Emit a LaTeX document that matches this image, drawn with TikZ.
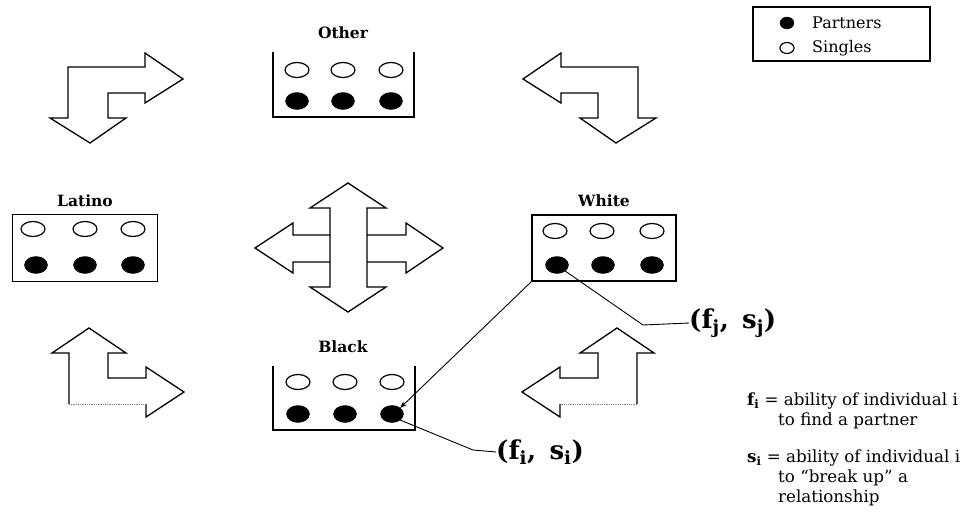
\documentclass[tikz,border=0pt]{standalone}
\usepackage{fontspec}
\setmainfont{DejaVu Serif}
\usetikzlibrary{shapes.geometric,arrows.meta}
\tikzset{
  partner/.style={draw,fill,ellipse,inner sep=0pt,outer sep=0pt,minimum width=23pt,minimum height=17pt},
  single/.style={draw,line width=1.2pt,ellipse,inner sep=0pt,outer sep=0pt,minimum width=24pt,minimum height=15pt},
  grouplabel/.style={font=\bfseries\fontsize{15.5}{18}\selectfont,inner sep=1pt},
  groupbox/.style={line width=1.5pt},
  bigarrow/.style={line width=1.3pt,line join=miter},
  faintedge/.style={line width=0.8pt,gray,densely dotted},
  legendtext/.style={font=\fontsize{16}{18}\selectfont,inner sep=0pt,anchor=west},
  pairlabel/.style={font=\bfseries\fontsize{26}{30}\selectfont,inner sep=0pt,anchor=west},
  deftext/.style={font=\fontsize{16.7}{20}\selectfont,inner sep=0pt,anchor=north west,align=left},
}
\begin{document}
\begin{tikzpicture}[x=1pt,y=-1pt]
\useasboundingbox (0,0) rectangle (961,519);
\draw[bigarrow] (183,79) -- (145,53) -- (145,67) -- (68,67) -- (68,118) -- (50,118) -- (90,143) -- (126,118) -- (108,118) -- (108,93) -- (145,93) -- (145,103) -- cycle;
\draw[bigarrow] (523,79) -- (561,53) -- (561,67) -- (638,67) -- (638,118) -- (656,118) -- (616,143) -- (580,118) -- (598,118) -- (598,93) -- (561,93) -- (561,103) -- cycle;
\draw[bigarrow] (146,404) -- (146,417) -- (184,392) -- (146,367) -- (146,378) -- (108,378) -- (108,353) -- (126,353) -- (89,328) -- (52,353) -- (69,353) -- (69,404);
\draw[faintedge] (69,404) -- (146,404);
\draw[bigarrow] (560,404) -- (560,417) -- (522,392) -- (560,367) -- (560,378) -- (598,378) -- (598,353) -- (580,353) -- (617,328) -- (654,353) -- (637,353) -- (637,404);
\draw[faintedge] (637,404) -- (560,404);
\draw[bigarrow] (348,183) -- (386,208) -- (367,208) -- (367,287) -- (386,287) -- (348,312) -- (310,287) -- (330,287) -- (330,208) -- (310,208) -- cycle;
\draw[bigarrow] (330,235) -- (293,235) -- (293,223) -- (255,248) -- (293,273) -- (293,262) -- (330,262);
\draw[bigarrow] (367,235) -- (406,235) -- (406,223) -- (443,248) -- (406,273) -- (406,262) -- (367,262);

\draw[groupbox] (273,52) -- (273,117) -- (414,117) -- (414,52);
\draw (343,33) node[grouplabel] {Other};
\draw (297,70) node[single] (os1) {};
\draw (343,70) node[single] (os2) {};
\draw (391,70) node[single] (os3) {};
\draw (297,101) node[partner] (op1) {};
\draw (343,101) node[partner] (op2) {};
\draw (391,101) node[partner] (op3) {};

\draw (85,248) node[draw,groupbox,minimum width=145pt,minimum height=67pt] (latino) {};
\draw (latino.north) node[above=6pt,grouplabel] {Latino};
\draw (33,229) node[single] (ls1) {};
\draw (85,229) node[single] (ls2) {};
\draw (133,229) node[single] (ls3) {};
\draw (36,265) node[partner] (lp1) {};
\draw (85,265) node[partner] (lp2) {};
\draw (133,265) node[partner] (lp3) {};

\draw (604,248) node[draw,groupbox,minimum width=144pt,minimum height=66pt] (white) {};
\draw (white.north) node[above=6pt,grouplabel] {White};
\draw (555,231) node[single] (ws1) {};
\draw (602,231) node[single] (ws2) {};
\draw (652,231) node[single] (ws3) {};
\draw (557,265) node[partner] (wp1) {};
\draw (603,265) node[partner] (wp2) {};
\draw (652,265) node[partner] (wp3) {};

\draw[groupbox] (273,366) -- (273,430) -- (415,430) -- (415,366);
\draw (343,347) node[grouplabel] {Black};
\draw (298,382) node[single] (bs1) {};
\draw (345,382) node[single] (bs2) {};
\draw (392,382) node[single] (bs3) {};
\draw (298,414) node[partner] (bp1) {};
\draw (345,414) node[partner] (bp2) {};
\draw (392,414) node[partner] (bp3) {};

\draw[line width=1.2pt] (753,7) rectangle (930,61);
\draw (787,23) node[partner,minimum width=14pt,minimum height=12pt] (legp) {};
\draw (legp.0) node[right=18pt,legendtext] {Partners};
\draw (787,48) node[single,minimum width=14pt,minimum height=11pt] (legs) {};
\draw (legs.0) node[right=18pt,legendtext] {Singles};

\draw (496,452) node[pairlabel] (fi) {(f\textsubscript{i},\ \,s\textsubscript{i})};
\draw (689,323) node[pairlabel] (fj) {(f\textsubscript{j},\ \,s\textsubscript{j})};
\coordinate (fibend) at (473,450);
\coordinate (fjbend) at (643,325);
\draw[line width=0.9pt,-{Stealth[length=7pt,width=5pt]}] (white.south west) -- (bp3.north east);
\draw[line width=0.9pt] (bp3.south east) -- (fibend) -- (fi.west);
\draw[line width=0.9pt] (wp1.south east) -- (fjbend) -- (fj.west);

\draw (747,393) node[deftext] (fdef) {\textbf{f\textsubscript{i}} = ability of individual i\\\hspace*{31pt}to find a partner};
\draw (747,450) node[deftext] (sdef) {\textbf{s\textsubscript{i}} = ability of individual i\\\hspace*{31pt}to ``break up'' a\\\hspace*{31pt}relationship};
\end{tikzpicture}
\end{document}
